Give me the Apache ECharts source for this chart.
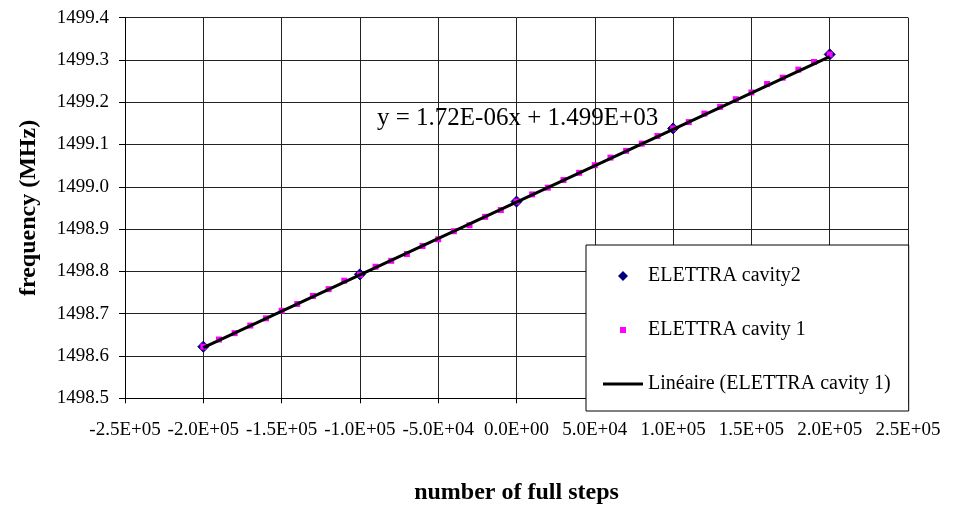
<!DOCTYPE html>
<html>
<head>
<meta charset="utf-8">
<script src="https://cdn.jsdelivr.net/npm/echarts@6/dist/echarts.min.js"></script>
<style>
html,body{margin:0;padding:0;background:#fff;}
#chart{width:955px;height:512px;}
</style>
</head>
<body>
<div id="chart"></div>
<script>
// ---- data ----
var cavity2X = [-200000, -100000, 0, 100000, 200000];
var cavity2Y = [1498.622, 1498.793, 1498.965, 1499.138, 1499.313];

var cavity1X = [-200000, -190000, -180000, -170000, -160000, -150000, -140000, -130000, -120000, -110000,
                -100000, -90000, -80000, -70000, -60000, -50000, -40000, -30000, -20000, -10000,
                0, 10000, 20000, 30000, 40000, 50000, 60000, 70000, 80000, 90000,
                100000, 110000, 120000, 130000, 140000, 150000, 160000, 170000, 180000, 190000, 200000];
var cavity1Y = [1498.622, 1498.639, 1498.654, 1498.672, 1498.689, 1498.707, 1498.723, 1498.742, 1498.758, 1498.778,
                1498.792, 1498.811, 1498.825, 1498.841, 1498.860, 1498.876, 1498.895, 1498.909, 1498.929, 1498.945,
                1498.965, 1498.982, 1498.998, 1499.016, 1499.033, 1499.051, 1499.069, 1499.085, 1499.102, 1499.120,
                1499.138, 1499.153, 1499.173, 1499.189, 1499.207, 1499.223, 1499.243, 1499.258, 1499.277, 1499.295, 1499.313];

var trendX = [-200000, 200000];
var trendY = [1498.620, 1499.308];

var xTickLabels = ['-2.5E+05', '-2.0E+05', '-1.5E+05', '-1.0E+05', '-5.0E+04', '0.0E+00',
                   '5.0E+04', '1.0E+05', '1.5E+05', '2.0E+05', '2.5E+05'];
var yTickLabels = ['1498.5', '1498.6', '1498.7', '1498.8', '1498.9', '1499.0',
                   '1499.1', '1499.2', '1499.3', '1499.4'];

var seriesNames = ['ELETTRA cavity2', 'ELETTRA cavity 1', 'Linéaire (ELETTRA cavity 1)'];
var equationText = 'y = 1.72E-06x + 1.499E+03';
var xTitle = 'number of full steps';
var yTitle = 'frequency (MHz)';

var xMin = -250000, xMax = 250000, xStep = 50000;
var yMin = 1498.5, yMax = 1499.4, yStep = 0.1;

function zip(a, b) { return a.map(function (v, i) { return [v, b[i]]; }); }

var FONT = '"Liberation Serif", "Times New Roman", serif';

var chart = echarts.init(document.getElementById('chart'), null, {renderer: 'canvas'});
chart.setOption({
  animation: false,
  backgroundColor: '#ffffff',
  textStyle: {fontFamily: FONT},
  grid: {left: 125, right: 47, top: 17.6, bottom: 113.7, containLabel: false},
  xAxis: {
    type: 'value', min: xMin, max: xMax, interval: xStep,
    name: xTitle, nameLocation: 'middle', nameGap: 82,
    nameTextStyle: {fontFamily: FONT, fontSize: 24, fontWeight: 'bold', color: '#000'},
    axisLine: {show: true, onZero: false, lineStyle: {color: '#000', width: 1}},
    axisTick: {show: true, length: 5, lineStyle: {color: '#000'}},
    axisLabel: {
      fontFamily: FONT, fontSize: 19, color: '#000', margin: 22,
      formatter: function (v) { return xTickLabels[Math.round((v - xMin) / xStep)]; }
    },
    splitLine: {show: true, lineStyle: {color: '#222', width: 1}}
  },
  yAxis: {
    type: 'value', min: yMin, max: yMax, interval: yStep,
    name: yTitle, nameLocation: 'middle', nameGap: 84, nameRotate: 90,
    nameTextStyle: {fontFamily: FONT, fontSize: 24, fontWeight: 'bold', color: '#000'},
    axisLine: {show: true, onZero: false, lineStyle: {color: '#000', width: 1}},
    axisTick: {show: true, length: 6, lineStyle: {color: '#000'}},
    axisLabel: {
      fontFamily: FONT, fontSize: 19, color: '#000', margin: 16,
      formatter: function (v) { return yTickLabels[Math.round((v - yMin) / yStep)]; }
    },
    splitLine: {show: true, lineStyle: {color: '#222', width: 1}}
  },
  legend: {
    orient: 'vertical',
    left: 586, top: 245,
    padding: [21, 18, 17, 17],
    itemGap: 34,
    itemWidth: 40, itemHeight: 11,
    symbolKeepAspect: true,
    backgroundColor: '#ffffff',
    borderColor: '#000', borderWidth: 1,
    textStyle: {fontFamily: FONT, fontSize: 20, color: '#000'},
    data: [
      {name: seriesNames[0], icon: 'path://M0,0M11,11M5.5,0.5L10.5,5.5L5.5,10.5L0.5,5.5Z', itemStyle: {color: '#000080'}},
      {name: seriesNames[1], icon: 'path://M0,0M11,11M2.5,2.5L8.5,2.5L8.5,8.5L2.5,8.5Z', itemStyle: {color: '#ff00ff'}},
      {name: seriesNames[2], icon: 'path://M0,0M40,11M0,4L40,4L40,7L0,7Z', itemStyle: {color: '#000'}}
    ]
  },
  graphic: [{
    type: 'text', left: 377, top: 106, z: 100,
    style: {text: equationText, font: '25px ' + FONT, fill: '#000'}
  }],
  series: [
    {
      name: seriesNames[0], type: 'scatter', symbol: 'diamond', symbolSize: 11,
      itemStyle: {color: '#000080', borderColor: '#000080', opacity: 1},
      data: zip(cavity2X, cavity2Y), z: 2
    },
    {
      name: seriesNames[1], type: 'scatter', symbol: 'rect', symbolSize: 6,
      itemStyle: {color: '#ff00ff', opacity: 1},
      data: zip(cavity1X, cavity1Y), z: 3
    },
    {
      name: seriesNames[2], type: 'line', symbol: 'none', showSymbol: false,
      lineStyle: {color: '#000', width: 3},
      itemStyle: {color: '#000'},
      data: zip(trendX, trendY), z: 4
    }
  ]
});
</script>
</body>
</html>
